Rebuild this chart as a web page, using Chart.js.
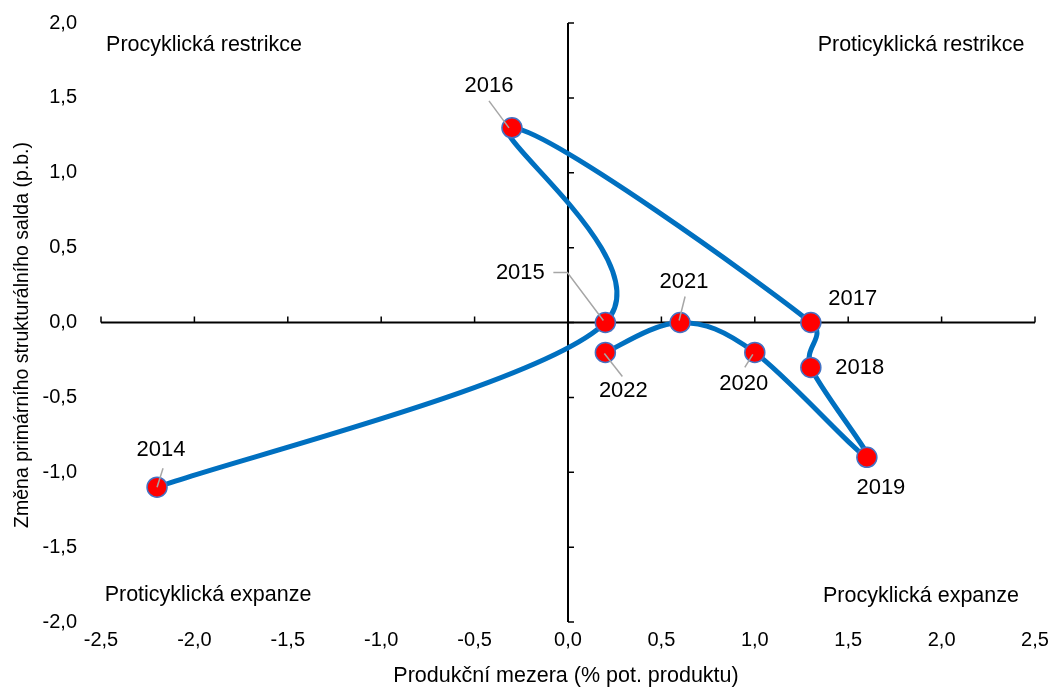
<!DOCTYPE html>
<html>
<head>
<meta charset="utf-8">
<script src="https://cdn.jsdelivr.net/npm/chart.js@4"></script>
<style>
  html, body { margin: 0; padding: 0; background: #fff; }
  #wrap { width: 1051px; height: 689px; position: relative; }
</style>
</head>
<body>
<div id="wrap"><canvas id="chart"></canvas></div>
<script>
// data
const years = ["2014", "2015", "2016", "2017", "2018", "2019", "2020", "2021", "2022"];
const outputGap = [-2.2, 0.2, -0.3, 1.3, 1.3, 1.6, 1.0, 0.6, 0.2];
const balanceChange = [-1.1, 0.0, 1.3, 0.0, -0.3, -0.9, -0.2, 0.0, -0.2];
const quadrantLabels = ["Procyklická restrikce", "Proticyklická restrikce", "Proticyklická expanze", "Procyklická expanze"];
const xTitle = "Produkční mezera (% pot. produktu)";
const yTitle = "Změna primárního strukturálního salda (p.b.)";

// label placement (pixel offsets from the point) and leader lines
const labelPlacement = {
    "2014": { dx: 4, dy: -37, leader: [[0, 0], [6, -19]] },
    "2015": { dx: -85, dy: -50, leader: [[-52, -50], [-38, -50], [-2, -2]] },
    "2016": { dx: -23, dy: -42, leader: [[-23, -27], [-3, 0]] },
    "2017": { dx: 42, dy: -24 },
    "2018": { dx: 49, dy: 1 },
    "2019": { dx: 14, dy: 31 },
    "2020": { dx: -11, dy: 31, leader: [[-10, 15], [-2, 2]] },
    "2021": { dx: 4, dy: -41, leader: [[5, -26], [-1, -2]] },
    "2022": { dx: 18, dy: 38, leader: [[-1, 1], [17, 24]] }
};

const FONT = "'Liberation Sans', Arial, sans-serif";
Chart.defaults.font.family = FONT;
Chart.defaults.font.size = 20;
Chart.defaults.color = "#000";

const fmt = v => Number(v).toFixed(1).replace(".", ",");

// Excel-like smoothing: Catmull-Rom control points, arms capped by segment length
const excelSmooth = {
    id: "excelSmooth",
    beforeDatasetDraw(chart, args) {
        const meta = args.meta;
        const pts = meta.data;
        const k = 1 / 6, cap = 0.5;
        const dist = (a, b) => Math.hypot(b.x - a.x, b.y - a.y);
        pts.forEach((p, i) => {
            const prev = pts[i - 1] || p;
            const next = pts[i + 1] || p;
            const tx = (next.x - prev.x) * k, ty = (next.y - prev.y) * k;
            const len = Math.hypot(tx, ty) || 1;
            const fIn = Math.min(1, cap * dist(prev, p) / len);
            const fOut = Math.min(1, cap * dist(p, next) / len);
            p.cp1x = p.x - tx * fIn; p.cp1y = p.y - ty * fIn;
            p.cp2x = p.x + tx * fOut; p.cp2y = p.y + ty * fOut;
        });
        if (meta.dataset) meta.dataset._pointsUpdated = true;
    }
};

const decorations = {
    id: "decorations",
    beforeDatasetsDraw(chart) {
        const { ctx, scales: { x, y } } = chart;
        const x0 = x.getPixelForValue(0), y0 = y.getPixelForValue(0);
        ctx.save();
        ctx.strokeStyle = "#000";
        ctx.lineWidth = 2;
        ctx.beginPath();
        ctx.moveTo(x.left, y0); ctx.lineTo(x.right, y0);
        ctx.moveTo(x0, y.top); ctx.lineTo(x0, y.bottom);
        ctx.stroke();
        ctx.lineWidth = 1.5;
        ctx.beginPath();
        x.ticks.forEach(t => {
            const px = x.getPixelForValue(t.value);
            ctx.moveTo(px, y0); ctx.lineTo(px, y0 - 6);
        });
        y.ticks.forEach(t => {
            const py = y.getPixelForValue(t.value);
            ctx.moveTo(x0, py); ctx.lineTo(x0 + 6, py);
        });
        ctx.stroke();

        ctx.fillStyle = "#000";
        ctx.textAlign = "center";
        ctx.textBaseline = "middle";
        // quadrant captions
        ctx.font = "21.5px " + FONT;
        ctx.fillText(quadrantLabels[0], 204, 45);
        ctx.fillText(quadrantLabels[1], 921, 45);
        ctx.fillText(quadrantLabels[2], 208, 595);
        ctx.fillText(quadrantLabels[3], 921, 596);

        // axis titles
        ctx.fillText(xTitle, 566, 676);
        ctx.save();
        ctx.translate(23, 335);
        ctx.rotate(-Math.PI / 2);
        ctx.font = "19.5px " + FONT;
        ctx.fillText(yTitle, 0, 0);
        ctx.restore();
        ctx.restore();
    },
    afterDatasetsDraw(chart) {
        const { ctx } = chart;
        const meta = chart.getDatasetMeta(0);
        ctx.save();
        meta.data.forEach((pt, i) => {
            const p = labelPlacement[years[i]];
            if (p.leader) {
                ctx.strokeStyle = "#a6a6a6";
                ctx.lineWidth = 1.5;
                ctx.beginPath();
                p.leader.forEach(([lx, ly], k) => {
                    if (k === 0) ctx.moveTo(pt.x + lx, pt.y + ly);
                    else ctx.lineTo(pt.x + lx, pt.y + ly);
                });
                ctx.stroke();
            }
            ctx.fillStyle = "#000";
            ctx.font = "22px " + FONT;
            ctx.textAlign = "center";
            ctx.textBaseline = "middle";
            ctx.fillText(years[i], pt.x + p.dx, pt.y + p.dy);
        });
        ctx.restore();
    }
};

function noEdgePadding(scale) {
    scale.paddingTop = 0; scale.paddingBottom = 0;
    scale.paddingLeft = 0; scale.paddingRight = 0;
}

new Chart(document.getElementById("chart"), {
    type: "scatter",
    data: {
        datasets: [{
            data: outputGap.map((v, i) => ({ x: v, y: balanceChange[i] })),
            showLine: true,
            tension: 0.4,
            borderColor: "#0070c0",
            borderWidth: 5,
            pointRadius: 10,
            pointHoverRadius: 10,
            pointBackgroundColor: "#ff0000",
            pointBorderColor: "#4472c4",
            pointBorderWidth: 1.5
        }]
    },
    options: {
        responsive: true,
        maintainAspectRatio: false,
        animation: false,
        layout: { padding: { top: 23, right: 16, left: 0, bottom: 0 } },
        plugins: { legend: { display: false }, tooltip: { enabled: false } },
        scales: {
            x: {
                type: "linear",
                min: -2.5, max: 2.5,
                grid: { display: false, drawTicks: false },
                border: { display: false },
                ticks: { stepSize: 0.5, padding: 6, callback: fmt, maxRotation: 0 },
                afterFit(scale) { scale.height = 67; noEdgePadding(scale); }
            },
            y: {
                type: "linear",
                min: -2, max: 2,
                grid: { display: false, drawTicks: false },
                border: { display: false },
                ticks: { stepSize: 0.5, padding: 24, callback: fmt },
                afterFit(scale) { scale.width = 101; noEdgePadding(scale); }
            }
        }
    },
    plugins: [excelSmooth, decorations]
});
</script>
</body>
</html>
